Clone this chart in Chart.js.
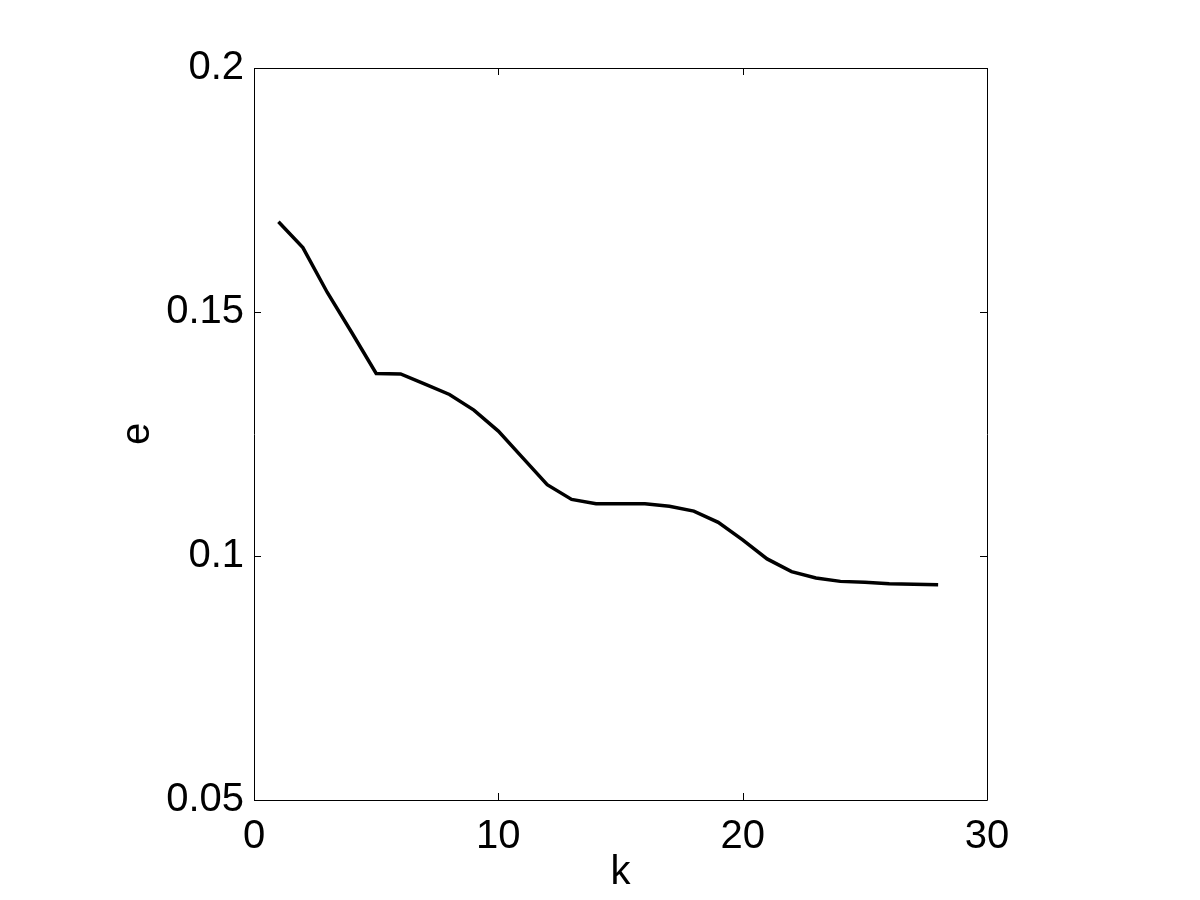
<!DOCTYPE html>
<html>
<head>
<meta charset="utf-8">
<script src="https://cdn.jsdelivr.net/npm/chart.js@4/dist/chart.umd.min.js"></script>
<style>
  html, body { margin: 0; padding: 0; background: #fff; }
  canvas { display: block; }
</style>
</head>
<body>
<canvas id="errChart" width="1200" height="900"></canvas>
<script>
// k と e の値
const kValues = [1, 2, 3, 4, 5, 6, 7, 8, 9, 10, 11, 12, 13, 14,
  15, 16, 17, 18, 19, 20, 21, 22, 23, 24, 25, 26, 27, 28];
const eValues = [0.1685, 0.1632, 0.1540, 0.1458, 0.1374, 0.1373, 0.1352, 0.1331,
  0.1299, 0.1256, 0.1201, 0.1146, 0.1116, 0.1107, 0.1107, 0.1107, 0.1102,
  0.1092, 0.1069, 0.1033, 0.0994, 0.0968, 0.0955, 0.0948, 0.0946, 0.0943,
  0.0942, 0.0941];
const xTicks = [0, 10, 20, 30];
const yTicks = [0.05, 0.1, 0.15, 0.2];

const FONT = "'Liberation Sans', Arial, Helvetica, sans-serif";

// 枠線と内向きの目盛り（MATLAB風）
const boxTicks = {
  id: "boxTicks",
  afterDraw(chart) {
    const ctx = chart.ctx;
    const a = chart.chartArea;
    const xs = chart.scales.x;
    const ys = chart.scales.y;
    const len = 7;
    ctx.save();
    ctx.strokeStyle = "#000";
    ctx.lineWidth = 1;
    ctx.beginPath();
    ctx.rect(Math.round(a.left) + 0.5, Math.round(a.top) + 0.5,
      Math.round(a.right - a.left), Math.round(a.bottom - a.top));
    xTicks.forEach(v => {
      const px = Math.round(xs.getPixelForValue(v)) + 0.5;
      ctx.moveTo(px, a.bottom);
      ctx.lineTo(px, a.bottom - len);
      ctx.moveTo(px, a.top);
      ctx.lineTo(px, a.top + len);
    });
    yTicks.forEach(v => {
      const py = Math.round(ys.getPixelForValue(v)) + 0.5;
      ctx.moveTo(a.left, py);
      ctx.lineTo(a.left + len, py);
      ctx.moveTo(a.right, py);
      ctx.lineTo(a.right - len, py);
    });
    ctx.stroke();
    ctx.restore();
  }
};

const bgWhite = {
  id: "bgWhite",
  beforeDraw(chart) {
    const ctx = chart.ctx;
    ctx.save();
    ctx.fillStyle = "#fff";
    ctx.fillRect(0, 0, chart.width, chart.height);
    ctx.restore();
  }
};

new Chart(document.getElementById("errChart").getContext("2d"), {
  type: "line",
  data: {
    datasets: [
      {
        data: kValues.map((k, i) => ({ x: k, y: eValues[i] })),
        borderColor: "#000",
        borderWidth: 3.5,
        pointRadius: 0,
        tension: 0,
        fill: false
      }
    ]
  },
  options: {
    responsive: false,
    animation: false,
    layout: { padding: { top: 68, right: 213, left: 0, bottom: 0 } },
    plugins: {
      legend: { display: false },
      tooltip: { enabled: false }
    },
    scales: {
      x: {
        type: "linear",
        min: 0,
        max: 30,
        afterBuildTicks: s => { s.ticks = xTicks.map(v => ({ value: v })); },
        afterFit: s => { s.height = 100; },
        grid: { display: false },
        border: { display: false },
        ticks: {
          color: "#000",
          font: { family: FONT, size: 40 },
          padding: 5,
          maxRotation: 0,
          callback: v => String(v)
        },
        title: {
          display: true,
          text: "k",
          color: "#000",
          font: { family: FONT, size: 40 },
          padding: { top: 0, bottom: 3 }
        }
      },
      y: {
        type: "linear",
        min: 0.05,
        max: 0.2,
        afterBuildTicks: s => { s.ticks = yTicks.map(v => ({ value: v })); },
        afterFit: s => { s.width = 254; },
        grid: { display: false },
        border: { display: false },
        ticks: {
          color: "#000",
          font: { family: FONT, size: 40 },
          padding: 2,
          callback: v => String(Number(v.toFixed(2)))
        },
        title: {
          display: true,
          text: "e",
          color: "#000",
          font: { family: FONT, size: 40 },
          padding: { top: 114, bottom: 0 }
        }
      }
    }
  },
  plugins: [bgWhite, boxTicks]
});
</script>
</body>
</html>
